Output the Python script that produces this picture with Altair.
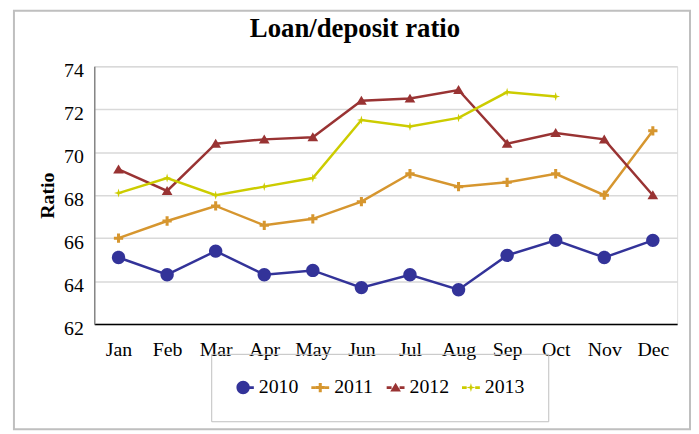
import altair as alt
import pandas as pd

months = ["Jan", "Feb", "Mar", "Apr", "May", "Jun", "Jul", "Aug", "Sep", "Oct", "Nov", "Dec"]
years = ["2010", "2011", "2012", "2013"]
v2010 = [65.1, 64.3, 65.4, 64.3, 64.5, 63.7, 64.3, 63.6, 65.2, 65.9, 65.1, 65.9]
v2011 = [66.0, 66.8, 67.5, 66.6, 66.9, 67.7, 69.0, 68.4, 68.6, 69.0, 68.0, 71.0]
v2012 = [69.2, 68.2, 70.4, 70.6, 70.7, 72.4, 72.5, 72.9, 70.4, 70.9, 70.6, 68.0]
v2013 = [68.1, 68.8, 68.0, 68.4, 68.8, 71.5, 71.2, 71.6, 72.8, 72.6, None, None]
y_ticks = [62, 64, 66, 68, 70, 72, 74]

colors = ["#333399", "#D6962F", "#993333", "#CCCC00"]

# marker shapes (unit box -1..1, drawn at size 324 -> 18px box)
circle = "M0,-0.75A0.75,0.75 0 1,1 0,0.75A0.75,0.75 0 1,1 0,-0.75Z"
plus = ("M-0.17,-0.52L0.17,-0.52L0.17,-0.17L0.52,-0.17L0.52,0.17L0.17,0.17L0.17,0.52"
        "L-0.17,0.52L-0.17,0.17L-0.52,0.17L-0.52,-0.17L-0.17,-0.17Z")
triangle = "M0,-0.55L0.6,0.45L-0.6,0.45Z"
star = "M0,-0.5L0.11,-0.11L0.5,0L0.11,0.11L0,0.5L-0.11,0.11L-0.5,0L-0.11,-0.11Z"
marker_shapes = [circle, plus, triangle, star]


# legend shapes: marker plus a short line segment on each side
def seg(a, b):
    return f"M{a},-0.15L{b},-0.15L{b},0.15L{a},0.15Z"


legend_shapes = [
    "M-0.2,-0.75A0.75,0.75 0 1,1 -0.2,0.75A0.75,0.75 0 1,1 -0.2,-0.75Z" + seg(0.5, 1.0),
    plus + seg(-1.0, -0.53) + seg(0.53, 1.0),
    triangle + seg(-1.0, -0.45) + seg(0.45, 1.0),
    star + seg(-1.0, -0.48) + seg(0.48, 1.0),
]

rows = []
for yr, vals in zip(years, [v2010, v2011, v2012, v2013]):
    for m, v in zip(months, vals):
        if v is not None:
            rows.append({"month": m, "year": yr, "ratio": v})
df = pd.DataFrame(rows)

FONT = "Liberation Serif"

x_enc = alt.X(
    "month:N", sort=months, title=None,
    scale=alt.Scale(type="point", padding=0.5),
    axis=alt.Axis(labelAngle=0, labelFont=FONT, labelFontSize=20, labelColor="black",
                  labelBaseline="alphabetic", labelPadding=32, ticks=False, tickSize=0,
                  domainColor="black", domainWidth=1.5, grid=False),
)
y_enc = alt.Y(
    "ratio:Q",
    scale=alt.Scale(domain=[62, 74], nice=False, zero=False),
    axis=alt.Axis(values=y_ticks, title="Ratio", titleFont=FONT, titleFontSize=20,
                  titleFontWeight="bold", titleColor="black", titleAngle=-90,
                  titleX=-41, titleY=130, titleBaseline="alphabetic", titleAlign="center",
                  labelFont=FONT, labelFontSize=20, labelColor="black", labelPadding=11,
                  labelBaseline="alphabetic", labelOffset=10, ticks=False, tickSize=0,
                  domainColor="#868686", domainWidth=1.5, gridColor="#D9D9D9", gridWidth=1.5),
)

color_scale = alt.Scale(range=colors)
base = alt.Chart(df)

lines = base.mark_line(strokeWidth=2.5).encode(
    x=x_enc, y=y_enc,
    color=alt.Color("year:N", scale=color_scale, legend=None),
)

point_layers = [
    base.transform_filter(alt.datum.year == yr).mark_point(
        filled=True, size=324, strokeWidth=0, opacity=1, shape=shp
    ).encode(x=x_enc, y=y_enc, color=alt.Color("year:N", scale=color_scale, legend=None))
    for yr, shp in zip(years, marker_shapes)
]

legend = alt.Legend(
    title=None, orient="none", legendX=118, legendY=290, direction="horizontal",
    symbolSize=324, symbolStrokeWidth=0, symbolOpacity=1,
    labelFont=FONT, labelFontSize=20, labelColor="black",
    labelOffset=4, columnPadding=12, padding=24, strokeColor="#BFBFBF",
)

legend_layer = base.mark_point(filled=True, size=324, strokeWidth=0, opacity=0).encode(
    x=x_enc, y=y_enc,
    fill=alt.Fill("year:N", scale=alt.Scale(domain=years, range=colors), legend=legend),
    shape=alt.Shape("year:N", scale=alt.Scale(domain=years, range=legend_shapes), legend=legend),
)

border = alt.Chart(pd.DataFrame({"k": [0]})).mark_rect(
    fillOpacity=0, stroke="#BFBFBF", strokeWidth=2
).encode(x=alt.value(-81), x2=alt.value(601), y=alt.value(-56), y2=alt.value(366))

chart = alt.layer(border, lines, *point_layers, legend_layer).properties(
    width=588, height=260,
    title=alt.TitleParams("Loan/deposit ratio", font=FONT, fontSize=27, fontWeight="bold",
                          color="black", anchor="middle", offset=-54, dx=-31,
                          baseline="alphabetic"),
    padding={"left": 87, "top": 57, "right": 14, "bottom": 109},
    autosize=alt.AutoSizeParams(type="none"),
).configure_view(stroke=None).configure(background="white").configure_legend(
    labelFont=FONT, labelFontSize=20, labelColor="black"
)

chart.save("out.html", embed_options={"renderer": "svg", "actions": False})
